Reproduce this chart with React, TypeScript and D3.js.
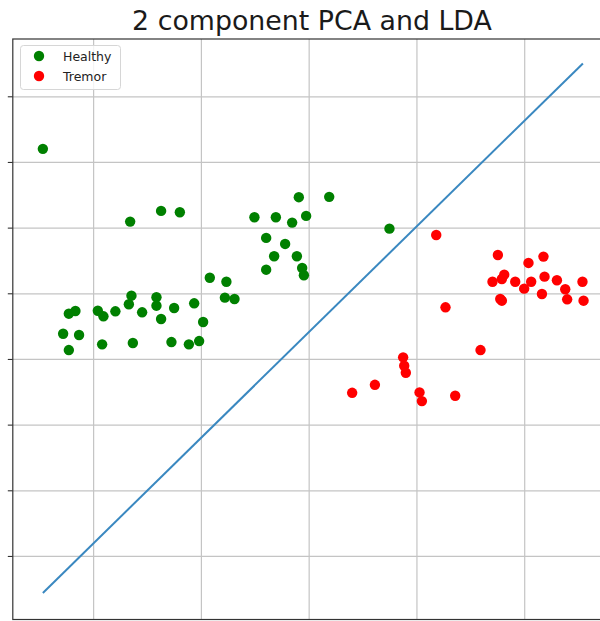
import React from "react";
import * as d3 from "d3";

// Projected samples (component 1, component 2)
const healthyX = [-1.661, -1.374, -1.2, -0.508, -0.309, -0.158, -0.096, -0.028, -0.399, -0.223, -0.325, -0.114, -0.399, -0.065, -0.049, -0.922, -0.768, -0.782, -0.693, -1.649, -1.417, -1.673, -1.417, -1.253, -1.067, -1.55, -1.798, -1.961, -1.909, -2.169, -2.23, -1.374, -0.984, -2.283, -2.135, -2.23, -1.921, -1.636, -1.278, -1.116, -1.021, -2.471, 0.186, 0.745];
const healthyY = [1.099, 1.262, 1.242, 1.166, 1.166, 1.084, 1.471, 1.186, 0.851, 0.759, 0.572, 0.572, 0.367, 0.393, 0.282, 0.245, 0.184, -0.059, -0.079, -0.029, -0.053, -0.16, -0.181, -0.216, -0.145, -0.282, -0.267, -0.258, -0.343, -0.262, -0.303, -0.384, -0.43, -0.608, -0.628, -0.857, -0.77, -0.75, -0.735, -0.77, -0.72, 2.207, 1.476, 0.992];

const tremorX = [1.179, 1.751, 2.174, 2.035, 1.81, 1.788, 1.701, 1.912, 2.06, 2.184, 2.299, 2.536, 1.995, 2.376, 2.16, 1.773, 1.788, 2.394, 2.546, 1.265, 1.59, 0.872, 0.882, 0.897, 0.61, 0.399, 1.024, 1.046, 1.355];
const tremorY = [0.896, 0.591, 0.566, 0.47, 0.291, 0.226, 0.184, 0.184, 0.184, 0.261, 0.206, 0.184, 0.078, 0.069, -0.003, -0.079, -0.105, -0.084, -0.105, -0.206, -0.857, -0.968, -1.096, -1.203, -1.386, -1.508, -1.502, -1.634, -1.553];

// LDA decision line endpoints
const boundaryX = [-2.471, 2.54];
const boundaryY = [-4.556, 3.508];

const xTicks = [-2, -1, 0, 1, 2];
const yTicks = [-4, -3, -2, -1, 0, 1, 2, 3];
const xLim = [-2.75, 2.81];
const yLim = [-4.96, 3.88];

const seriesNames = ["Healthy", "Tremor"];
const seriesColors = ["#008000", "#ff0000"];

const W = 600;
const H = 621;
const plot = { left: 12.8, right: 612, top: 39, bottom: 619.5 };

export default function App() {
  const x = d3.scaleLinear().domain(xLim).range([plot.left, plot.right]);
  const y = d3.scaleLinear().domain(yLim).range([plot.bottom, plot.top]);

  const healthy = healthyX.map((v, i) => [v, healthyY[i]]);
  const tremor = tremorX.map((v, i) => [v, tremorY[i]]);
  const boundary = boundaryX.map((v, i) => [v, boundaryY[i]] as [number, number]);
  const line = d3.line<[number, number]>().x((d) => x(d[0])).y((d) => y(d[1]));

  const font = "'DejaVu Sans', sans-serif";

  return (
    <svg
      width={W}
      height={H}
      style={{ position: "fixed", left: 0, top: 0, background: "#fff" }}
      fontFamily={font}
    >
      <rect x={0} y={0} width={W} height={H} fill="#fff" />
      <text x={312} y={30} textAnchor="middle" fontSize={26.8} fill="#1a1a1a">
        2 component PCA and LDA
      </text>

      {/* grid */}
      <g stroke="#c4c4c4" strokeWidth={1.2}>
        {xTicks.map((t) => (
          <line key={"gx" + t} x1={x(t)} x2={x(t)} y1={plot.top} y2={plot.bottom} />
        ))}
        {yTicks.map((t) => (
          <line key={"gy" + t} x1={plot.left} x2={plot.right} y1={y(t)} y2={y(t)} />
        ))}
      </g>

      {/* y tick marks */}
      <g stroke="#333" strokeWidth={1.1}>
        {yTicks.map((t) => (
          <line key={"ty" + t} x1={plot.left - 5} x2={plot.left} y1={y(t)} y2={y(t)} />
        ))}
      </g>

      {/* samples */}
      <g>
        {healthy.map((d, i) => (
          <circle key={"h" + i} cx={x(d[0])} cy={y(d[1])} r={5.2} fill={seriesColors[0]} />
        ))}
        {tremor.map((d, i) => (
          <circle key={"t" + i} cx={x(d[0])} cy={y(d[1])} r={5.2} fill={seriesColors[1]} />
        ))}
      </g>

      <path d={line(boundary) || ""} fill="none" stroke="#3a88c0" strokeWidth={2} />

      {/* spines */}
      <rect
        x={plot.left}
        y={plot.top}
        width={plot.right - plot.left}
        height={plot.bottom - plot.top}
        fill="none"
        stroke="#333"
        strokeWidth={1.2}
      />

      {/* legend */}
      <g>
        <rect x={20.5} y={45.5} width={100} height={44} rx={3} fill="#fff" fillOpacity={0.8} stroke="#d6d6d6" />
        {seriesNames.map((name, i) => (
          <g key={name}>
            <circle cx={39} cy={56 + i * 20} r={5.2} fill={seriesColors[i]} />
            <text x={63} y={60.5 + i * 20} fontSize={12.5} fill="#222">
              {name}
            </text>
          </g>
        ))}
      </g>
    </svg>
  );
}
